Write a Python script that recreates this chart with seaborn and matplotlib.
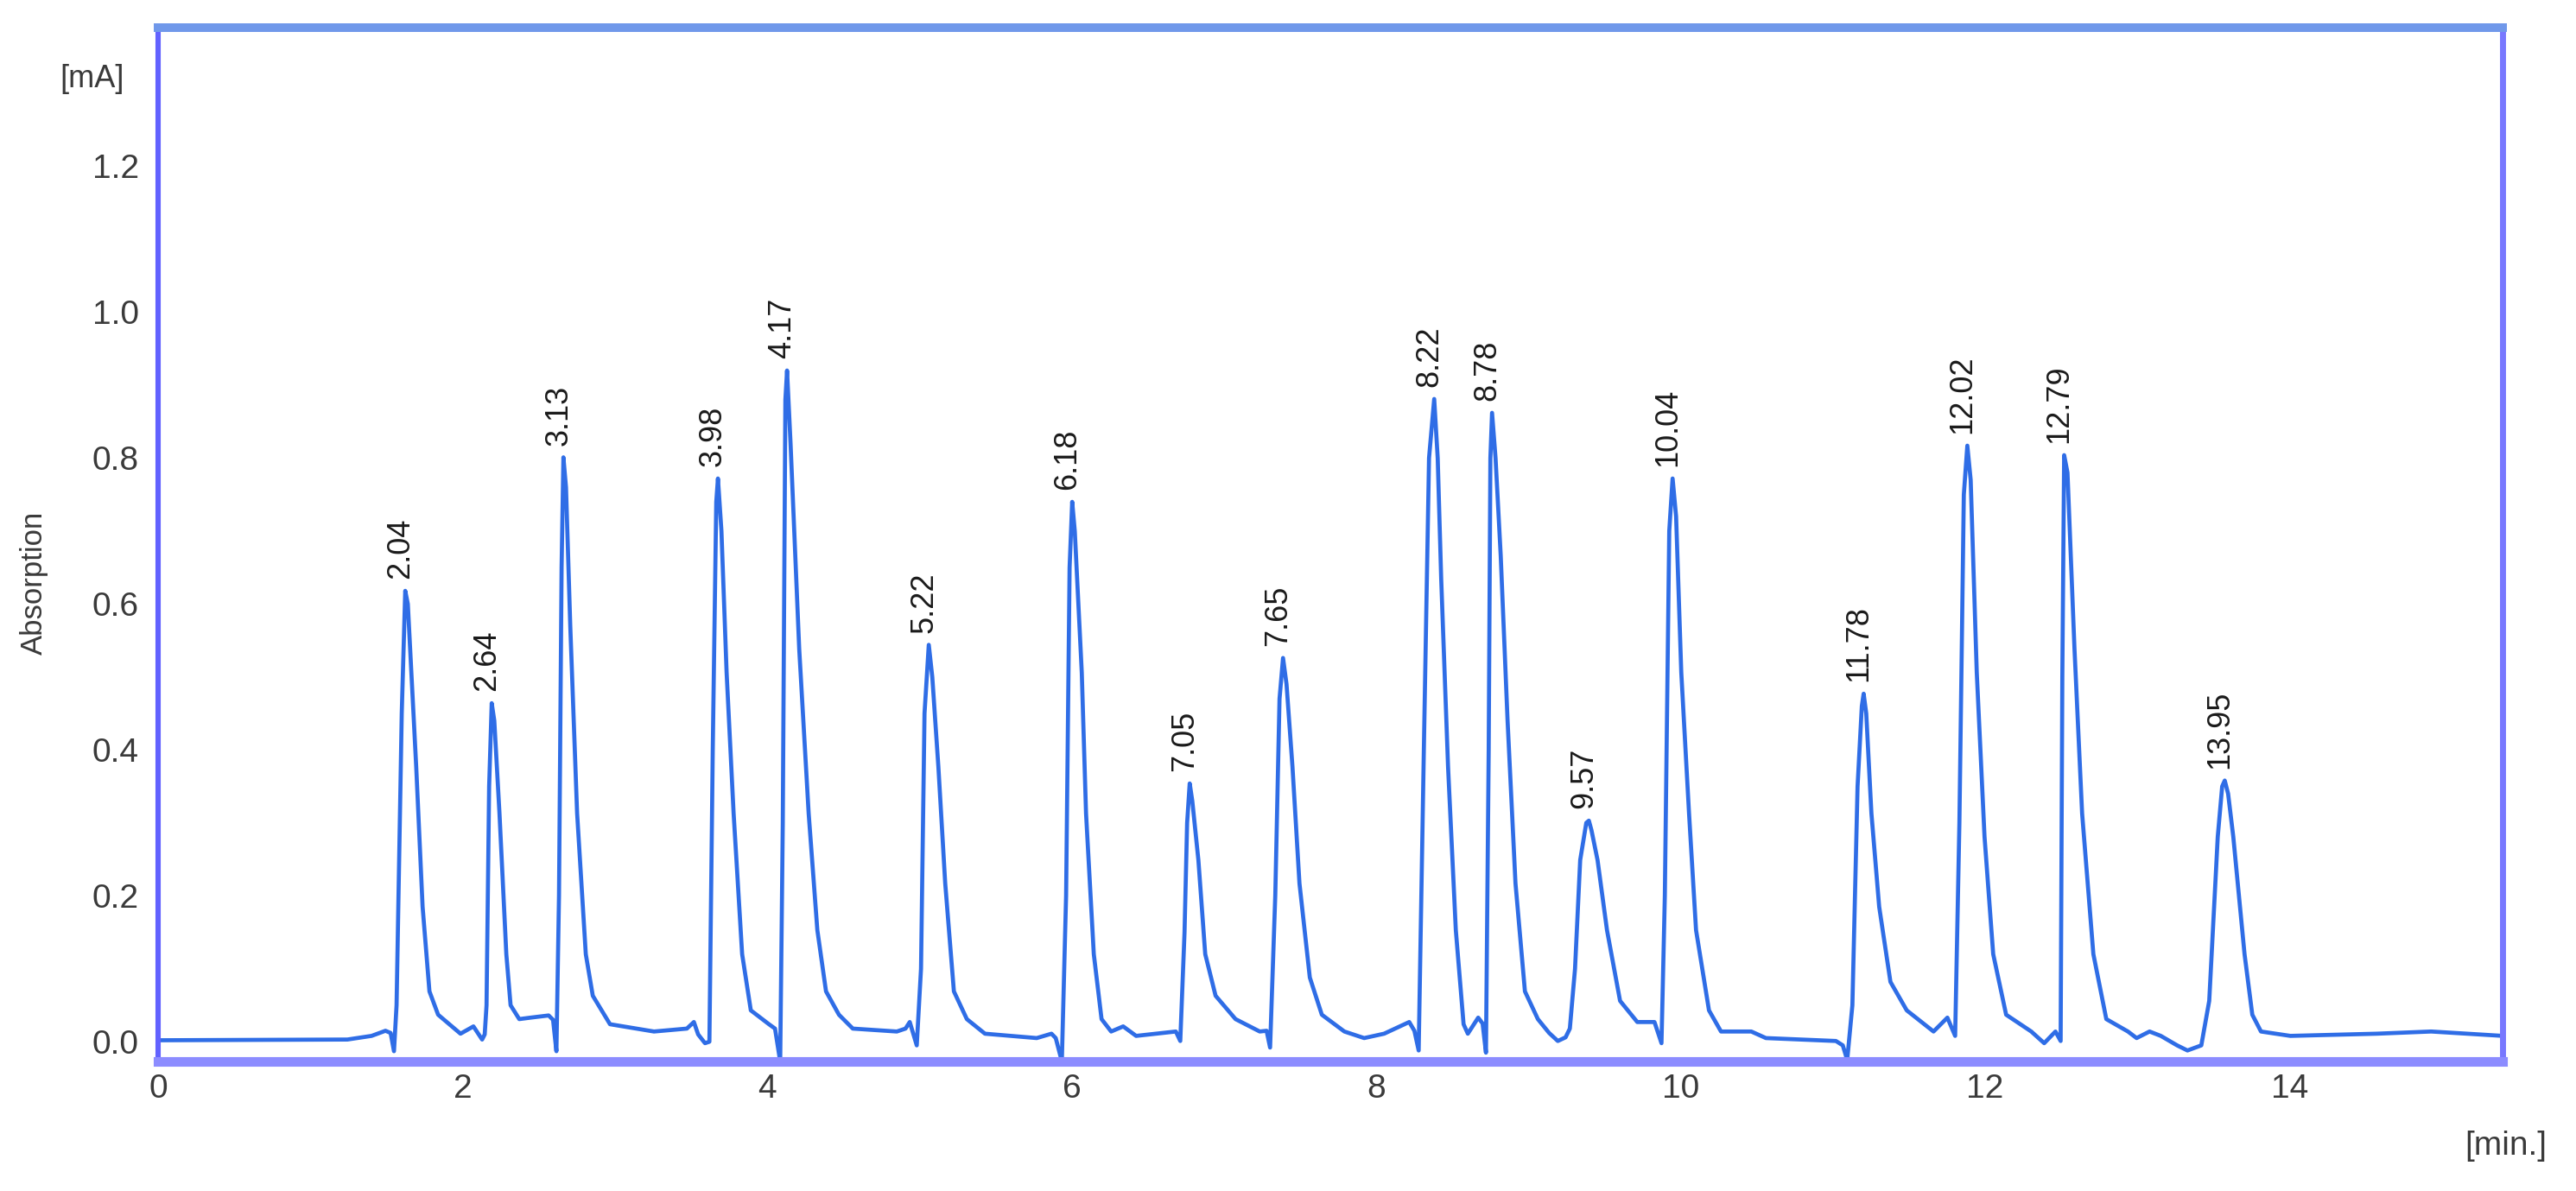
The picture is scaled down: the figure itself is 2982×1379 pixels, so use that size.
import matplotlib
matplotlib.use("Agg")
import matplotlib.pyplot as plt
import seaborn as sns
import pandas as pd

# ---- data ----
trace_time = [
    0.000, 1.243, 1.402, 1.493, 1.527, 1.549, 1.566, 1.600, 1.623, 1.640,
    1.695, 1.737, 1.782, 1.839, 1.986, 2.071, 2.128, 2.145, 2.157, 2.174,
    2.191, 2.208, 2.242, 2.287, 2.315, 2.372, 2.446, 2.565, 2.594, 2.616,
    2.633, 2.650, 2.662, 2.679, 2.707, 2.752, 2.809, 2.855, 2.968, 3.257,
    3.473, 3.519, 3.547, 3.592, 3.621, 3.643, 3.666, 3.677, 3.700, 3.734,
    3.780, 3.836, 3.893, 4.012, 4.052, 4.086, 4.103, 4.120, 4.131, 4.154,
    4.211, 4.273, 4.330, 4.387, 4.472, 4.563, 4.852, 4.909, 4.937, 4.983,
    5.011, 5.034, 5.062, 5.085, 5.125, 5.170, 5.227, 5.312, 5.431, 5.771,
    5.868, 5.896, 5.936, 5.964, 5.987, 6.004, 6.021, 6.067, 6.095, 6.146,
    6.197, 6.260, 6.339, 6.424, 6.685, 6.714, 6.742, 6.759, 6.776, 6.793,
    6.833, 6.878, 6.946, 7.077, 7.236, 7.281, 7.304, 7.338, 7.366, 7.389,
    7.412, 7.451, 7.497, 7.565, 7.644, 7.792, 7.922, 8.053, 8.218, 8.252,
    8.280, 8.314, 8.348, 8.382, 8.405, 8.428, 8.473, 8.524, 8.575, 8.603,
    8.671, 8.700, 8.722, 8.740, 8.751, 8.762, 8.785, 8.819, 8.864, 8.916,
    8.978, 9.063, 9.137, 9.194, 9.245, 9.273, 9.307, 9.341, 9.381, 9.398,
    9.415, 9.455, 9.517, 9.603, 9.716, 9.829, 9.875, 9.897, 9.926, 9.948,
    9.971, 10.005, 10.056, 10.102, 10.187, 10.266, 10.465, 10.561, 11.021, 11.066,
    11.095, 11.129, 11.163, 11.191, 11.203, 11.220, 11.254, 11.305, 11.379, 11.486,
    11.662, 11.753, 11.804, 11.832, 11.861, 11.884, 11.906, 11.946, 11.997, 12.054,
    12.139, 12.304, 12.389, 12.463, 12.497, 12.508, 12.520, 12.542, 12.588, 12.638,
    12.712, 12.797, 12.939, 12.996, 13.081, 13.155, 13.262, 13.330, 13.421, 13.473,
    13.529, 13.558, 13.575, 13.597, 13.631, 13.705, 13.756, 13.813, 14.006, 14.573,
    14.931, 15.402,
]
trace_abs = [
    0.002, 0.003, 0.008, 0.015, 0.012, -0.013, 0.050, 0.450, 0.618, 0.600,
    0.377, 0.185, 0.069, 0.037, 0.011, 0.021, 0.003, 0.010, 0.050, 0.350,
    0.464, 0.440, 0.313, 0.120, 0.050, 0.031, 0.033, 0.036, 0.030, -0.013,
    0.200, 0.650, 0.801, 0.760, 0.570, 0.313, 0.120, 0.063, 0.024, 0.014,
    0.018, 0.027, 0.010, -0.002, 0.000, 0.400, 0.740, 0.772, 0.700, 0.506,
    0.313, 0.120, 0.043, 0.024, 0.018, -0.027, 0.300, 0.880, 0.920, 0.820,
    0.538, 0.313, 0.153, 0.069, 0.037, 0.018, 0.014, 0.018, 0.027, -0.005,
    0.100, 0.450, 0.544, 0.500, 0.377, 0.217, 0.069, 0.031, 0.011, 0.005,
    0.011, 0.005, -0.027, 0.200, 0.650, 0.740, 0.700, 0.506, 0.313, 0.120,
    0.031, 0.014, 0.021, 0.008, 0.014, 0.001, 0.150, 0.300, 0.354, 0.330,
    0.249, 0.120, 0.063, 0.031, 0.014, 0.015, -0.008, 0.200, 0.470, 0.526,
    0.490, 0.377, 0.217, 0.088, 0.037, 0.014, 0.005, 0.011, 0.027, 0.015,
    -0.012, 0.400, 0.800, 0.881, 0.800, 0.634, 0.377, 0.153, 0.024, 0.011,
    0.033, 0.025, -0.015, 0.400, 0.800, 0.862, 0.800, 0.666, 0.440, 0.217,
    0.069, 0.031, 0.012, 0.001, 0.006, 0.018, 0.100, 0.249, 0.300, 0.303,
    0.290, 0.249, 0.153, 0.056, 0.027, 0.027, -0.002, 0.200, 0.700, 0.772,
    0.720, 0.506, 0.313, 0.153, 0.043, 0.014, 0.014, 0.005, 0.001, -0.005,
    -0.025, 0.050, 0.350, 0.460, 0.477, 0.450, 0.313, 0.185, 0.082, 0.043,
    0.014, 0.033, 0.008, 0.300, 0.750, 0.817, 0.770, 0.506, 0.281, 0.120,
    0.037, 0.014, -0.002, 0.014, 0.001, 0.500, 0.804, 0.780, 0.538, 0.313,
    0.120, 0.031, 0.014, 0.005, 0.014, 0.008, -0.005, -0.012, -0.005, 0.056,
    0.281, 0.350, 0.358, 0.340, 0.281, 0.120, 0.037, 0.014, 0.008, 0.011,
    0.014, 0.008,
]

# peak apex positions (as drawn), apex heights and their retention-time labels
peak_time = [1.623, 2.191, 2.662, 3.677, 4.131, 5.062, 6.004, 6.776, 7.389,
             8.382, 8.762, 9.398, 9.948, 11.203, 11.884, 12.520, 13.575]
peak_height = [0.618, 0.464, 0.801, 0.772, 0.920, 0.544, 0.740, 0.354, 0.526,
               0.881, 0.862, 0.303, 0.772, 0.477, 0.817, 0.804, 0.358]
peak_labels = ["2.04", "2.64", "3.13", "3.98", "4.17", "5.22", "6.18", "7.05",
               "7.65", "8.22", "8.78", "9.57", "10.04", "11.78", "12.02",
               "12.79", "13.95"]

x_ticks = [0, 2, 4, 6, 8, 10, 12, 14]
y_ticks = [0.0, 0.2, 0.4, 0.6, 0.8, 1.0, 1.2]

# ---- plotting ----
sns.set_theme(style="white")
plt.rcParams["font.family"] = ["Liberation Sans", "DejaVu Sans"]

fig = plt.figure(figsize=(14.91, 6.895), dpi=200)
ax = fig.add_axes([0.0614, 0.1088, 0.9101, 0.868])

df = pd.DataFrame({"time": trace_time, "absorption": trace_abs})
sns.lineplot(data=df, x="time", y="absorption", ax=ax, color="#2f6de6",
             linewidth=1.7, estimator=None, sort=False)

for t, h, lab in zip(peak_time, peak_height, peak_labels):
    ax.annotate(lab, xy=(t, h), xytext=(-2, 5), textcoords="offset points",
                rotation=90, ha="center", va="bottom", fontsize=13,
                color="#1a1a1a")

ax.set_xlim(0, 15.4)
ax.set_ylim(-0.027, 1.39)
ax.set_xticks(x_ticks)
ax.set_xticklabels([str(v) for v in x_ticks])
ax.set_yticks(y_ticks)
ax.set_yticklabels([f"{v:.1f}" for v in y_ticks])
ax.tick_params(axis="both", length=0, labelsize=14, labelcolor="#3a3a3a")
ax.tick_params(axis="x", pad=5)
ax.tick_params(axis="y", pad=8)

ax.set_xlabel("")
ax.set_ylabel("Absorption", fontsize=12.5, color="#3a3a3a")
ax.yaxis.set_label_coords(-0.047, 0.463)

ax.text(-0.028, 0.950, "[mA]", transform=ax.transAxes, ha="center",
        va="center", fontsize=13, color="#3a3a3a")
ax.text(1.0015, -0.082, "[min.]", transform=ax.transAxes, ha="center",
        va="center", fontsize=14, color="#3a3a3a")

spine_style = {
    "left": ("#6262ff", 2.2),
    "bottom": ("#8c8cff", 4.0),
    "top": ("#7098ea", 3.6),
    "right": ("#7878ff", 2.5),
}
for name, (col, lw) in spine_style.items():
    ax.spines[name].set_visible(True)
    ax.spines[name].set_color(col)
    ax.spines[name].set_linewidth(lw)

ax.grid(False)
fig.savefig("out.png", dpi=200, facecolor="white")
